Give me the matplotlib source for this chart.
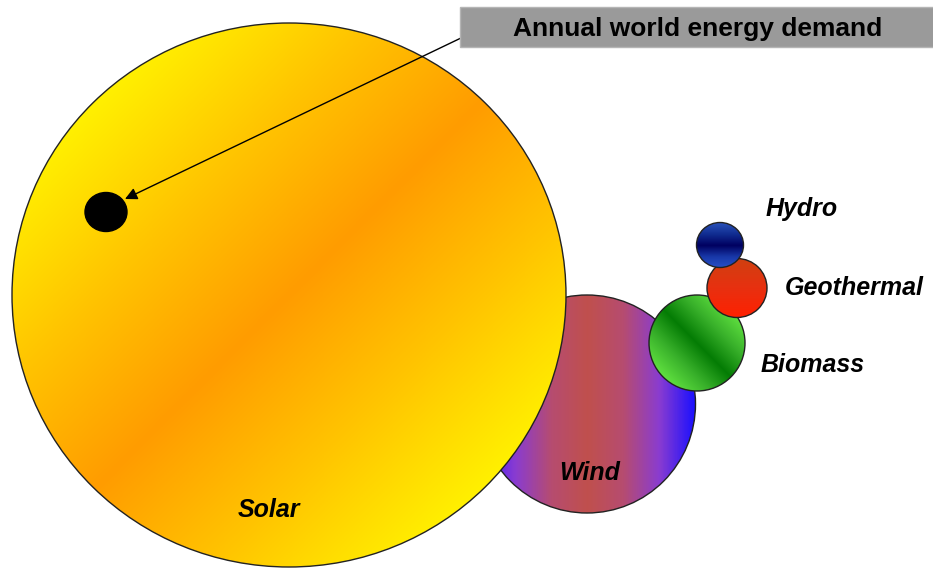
import numpy as np
import matplotlib
matplotlib.use('Agg')
import matplotlib.pyplot as plt
from matplotlib.patches import Ellipse, Rectangle
from matplotlib.colors import LinearSegmentedColormap

# energy resources drawn as circles (size ~ annual potential)
sources = ['Solar', 'Wind', 'Biomass', 'Geothermal', 'Hydro']
widths = [554, 217, 96, 60, 47]
heights = [544, 218, 96, 59, 45]
demand_label = 'Annual world energy demand'
demand_size = (42, 39)

# layout (pixel coords, y grows downward)
centers = {'Solar': (289, 295), 'Wind': (587, 404), 'Biomass': (697, 343),
           'Geothermal': (737, 288), 'Hydro': (720, 245)}
label_pos = {'Solar': (269, 517), 'Wind': (590, 480), 'Biomass': (813, 372),
             'Geothermal': (854, 295), 'Hydro': (802, 216)}
gradients = {
    'Solar': ((1, 1), ['#FFF000', '#FFC400', '#FF9C00', '#FFC400', '#FFF000']),
    'Wind': ((1, 0), ['#3A18FF', '#8A3CD0', '#B64C70', '#C0504D', '#B64C70', '#8A3CD0', '#1A10FF']),
    'Biomass': ((1, -1), ['#60E040', '#38B02A', '#047C04', '#38B02A', '#60E040']),
    'Geothermal': ((0, 1), ['#D04010', '#E83010', '#FF2000']),
    'Hydro': ((0, 1), ['#2850B8', '#102C90', '#000060', '#1838A8', '#2850C8']),
}
draw_order = ['Wind', 'Solar', 'Biomass', 'Geothermal', 'Hydro']

fig = plt.figure(figsize=(9.33, 5.69), dpi=100)
ax = fig.add_axes([0, 0, 1, 1])
ax.set_xlim(0, 933)
ax.set_ylim(569, 0)
ax.axis('off')


def gradient_ellipse(ax, cx, cy, w, h, direction, colors, z):
    dx, dy = direction
    norm = np.hypot(dx, dy)
    dx, dy = dx / norm, dy / norm
    xs = np.linspace(cx - w / 2, cx + w / 2, 300)
    ys = np.linspace(cy - h / 2, cy + h / 2, 300)
    X, Y = np.meshgrid(xs, ys)
    ext = np.hypot(w / 2 * dx, h / 2 * dy)
    t = ((X - cx) * dx + (Y - cy) * dy) / ext
    t = np.clip((t + 1) / 2, 0, 1)
    cmap = LinearSegmentedColormap.from_list('g', colors)
    im = ax.imshow(t, cmap=cmap, extent=(xs[0], xs[-1], ys[-1], ys[0]),
                   origin='upper', interpolation='bilinear', zorder=z, aspect='auto')
    patch = Ellipse((cx, cy), w, h, facecolor='none', edgecolor='#222222', lw=1.0, zorder=z + 0.5)
    ax.add_patch(patch)
    clip = Ellipse((cx, cy), w, h, transform=ax.transData)
    im.set_clip_path(clip)


for i, name in enumerate(draw_order):
    k = sources.index(name)
    cx, cy = centers[name]
    direction, cols = gradients[name]
    gradient_ellipse(ax, cx, cy, widths[k], heights[k], direction, cols, z=2 + i)

label_font = dict(family='Liberation Sans', weight='bold', style='italic', fontsize=18)
for name in sources:
    x, y = label_pos[name]
    ax.text(x, y, name, ha='center', va='baseline', color='black', zorder=20, **label_font)

# annual demand dot
ax.add_patch(Ellipse((106, 212), demand_size[0], demand_size[1], facecolor='black',
                     edgecolor='black', zorder=15))

# label box + arrow
ax.add_patch(Rectangle((460, 7), 480, 40, facecolor='#9A9A9A', edgecolor='#B5B5B5', lw=1, zorder=16))
ax.text(698, 36, demand_label, ha='center', va='baseline', fontsize=19,
        family='Liberation Sans', weight='bold', color='black', zorder=17)
ax.annotate('', xy=(125, 199), xytext=(461, 38),
            arrowprops=dict(arrowstyle='-|>', color='black', lw=1.0, mutation_scale=18,
                            shrinkA=0, shrinkB=0), zorder=15)

plt.savefig('out.png', dpi=100)
